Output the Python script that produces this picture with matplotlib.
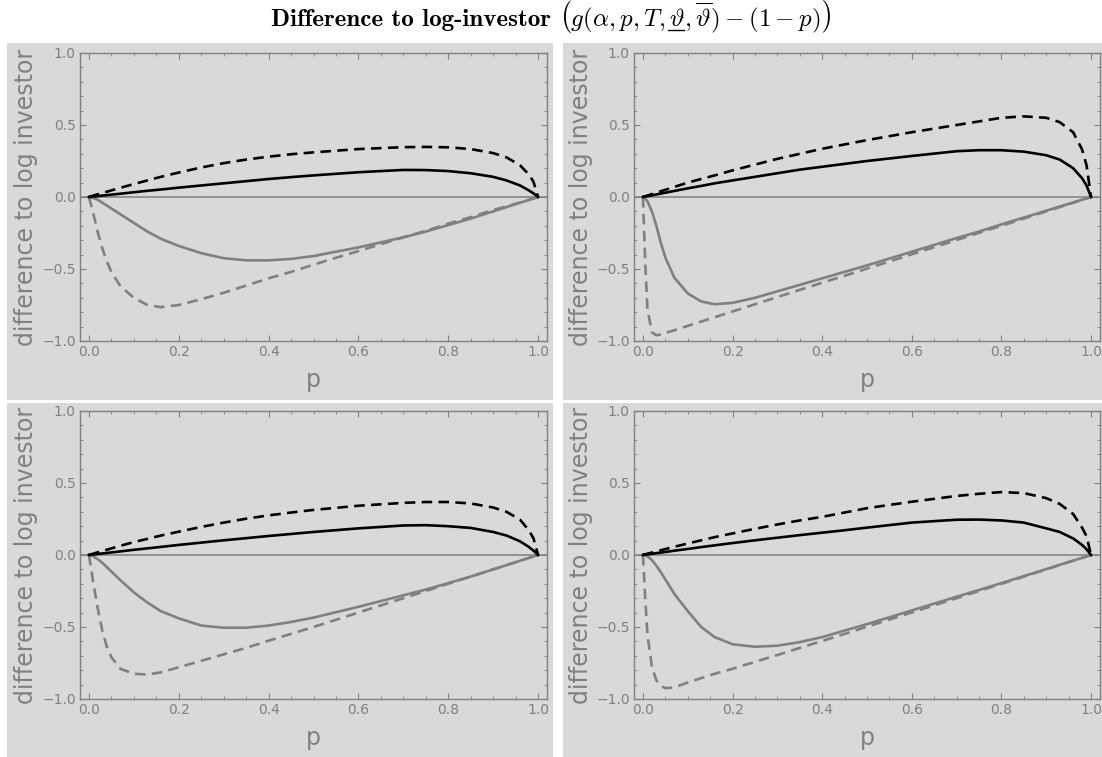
import numpy as np
import matplotlib
matplotlib.use('Agg')
import matplotlib.pyplot as plt
from matplotlib.patches import Rectangle
from matplotlib.lines import Line2D
from matplotlib.ticker import MultipleLocator

# common p grid the values were read at
p = [0, 0.005, 0.01, 0.02, 0.03, 0.04, 0.05, 0.07, 0.1, 0.13, 0.16, 0.2, 0.25, 0.3, 0.35,
     0.4, 0.45, 0.5, 0.6, 0.7, 0.75, 0.8, 0.85, 0.9, 0.93, 0.96, 0.98, 0.99, 1.0]

# top left
tl_black = [0, .002, .003, .007, .01, .013, .016, .023, .033, .043, .052, .065, .08, .095, .11,
            .125, .138, .15, .172, .188, .187, .18, .165, .14, .115, .08, .045, .025, 0]
tl_black_dash = [0, .005, .01, .019, .028, .037, .046, .064, .09, .115, .14, .17, .205, .235, .26,
                 .28, .297, .31, .333, .346, .348, .345, .333, .305, .275, .22, .155, .105, 0]
tl_gray = [0, -.003, -.008, -.02, -.04, -.06, -.08, -.12, -.18, -.24, -.29, -.34, -.39, -.425, -.44,
           -.44, -.43, -.41, -.35, -.28, -.24, -.195, -.15, -.1, -.07, -.04, -.02, -.01, 0]
tl_gray_dash = [0, -.06, -.12, -.25, -.36, -.45, -.52, -.62, -.70, -.75, -.765, -.75, -.71, -.665, -.615,
                -.565, -.52, -.47, -.375, -.28, -.235, -.185, -.14, -.09, -.065, -.038, -.019, -.01, 0]

# top right
tr_black = [0, .003, .006, .012, .018, .024, .03, .042, .06, .077, .095, .115, .14, .165, .19,
            .21, .23, .25, .285, .318, .325, .325, .315, .29, .26, .2, .13, .08, 0]
tr_black_dash = [0, .005, .01, .02, .03, .04, .05, .07, .1, .125, .15, .185, .225, .265, .3,
                 .335, .365, .395, .45, .5, .525, .55, .56, .55, .52, .45, .33, .22, 0]
tr_gray = [0, -.01, -.03, -.1, -.2, -.32, -.42, -.56, -.67, -.725, -.745, -.735, -.7, -.655, -.61,
           -.565, -.52, -.475, -.38, -.285, -.24, -.19, -.143, -.095, -.067, -.038, -.019, -.01, 0]
tr_gray_dash = [0, -.45, -.78, -.94, -.96, -.955, -.945, -.925, -.895, -.865, -.835, -.795, -.745, -.695, -.645,
                -.595, -.547, -.497, -.398, -.299, -.249, -.2, -.15, -.1, -.07, -.04, -.02, -.01, 0]

# bottom left
bl_black = [0, .002, .004, .007, .011, .014, .018, .025, .036, .046, .056, .07, .086, .102, .117,
            .132, .146, .16, .185, .205, .207, .2, .188, .16, .135, .095, .055, .03, 0]
bl_black_dash = [0, .005, .01, .019, .028, .037, .046, .064, .09, .112, .135, .162, .195, .225, .252,
                 .275, .295, .313, .342, .362, .368, .368, .358, .33, .3, .245, .17, .115, 0]
bl_gray = [0, -.003, -.01, -.03, -.055, -.085, -.115, -.175, -.26, -.33, -.39, -.44, -.49, -.505, -.505,
           -.49, -.465, -.435, -.36, -.28, -.24, -.195, -.15, -.1, -.07, -.04, -.02, -.01, 0]
bl_gray_dash = [0, -.1, -.2, -.38, -.53, -.64, -.71, -.79, -.825, -.83, -.815, -.78, -.735, -.69, -.645,
                -.595, -.548, -.5, -.4, -.3, -.25, -.2, -.15, -.1, -.07, -.04, -.02, -.01, 0]

# bottom right
br_black = [0, .002, .004, .008, .013, .017, .021, .03, .042, .055, .067, .083, .102, .12, .138,
            .155, .172, .19, .225, .245, .246, .24, .225, .185, .16, .115, .07, .04, 0]
br_black_dash = [0, .005, .009, .017, .025, .033, .041, .057, .08, .102, .124, .15, .182, .212, .24,
                 .265, .295, .325, .37, .41, .425, .437, .43, .395, .355, .285, .19, .13, 0]
br_gray = [0, -.003, -.01, -.035, -.075, -.12, -.17, -.27, -.39, -.5, -.57, -.62, -.637, -.63, -.605,
           -.57, -.525, -.48, -.385, -.29, -.243, -.195, -.147, -.098, -.068, -.039, -.02, -.01, 0]
br_gray_dash = [0, -.3, -.55, -.78, -.87, -.91, -.925, -.92, -.885, -.855, -.825, -.79, -.742, -.695, -.645,
                -.597, -.548, -.498, -.399, -.3, -.25, -.2, -.15, -.1, -.07, -.04, -.02, -.01, 0]

panels = [
    (tl_black, tl_black_dash, tl_gray, tl_gray_dash),
    (tr_black, tr_black_dash, tr_gray, tr_gray_dash),
    (bl_black, bl_black_dash, bl_gray, bl_gray_dash),
    (br_black, br_black_dash, br_gray, br_gray_dash),
]

W, H = 1102, 757
bg = '#d9d9d9'
fg = '#808080'
plt.rcParams['mathtext.fontset'] = 'cm'

fig = plt.figure(figsize=(W / 100, H / 100), dpi=100)

# panel backgrounds (pixels: x0, y0, x1, y1) and axes frames
bgs = [(7, 43, 553, 400), (563, 43, 1102, 400), (7, 403, 553, 757), (563, 403, 1102, 757)]
frames = [(80, 53, 547, 341), (634, 53, 1100, 341), (80, 411, 547, 699), (634, 411, 1100, 699)]

for (x0, y0, x1, y1) in bgs:
    fig.add_artist(Rectangle((x0 / W, 1 - y1 / H), (x1 - x0) / W, (y1 - y0) / H,
                             transform=fig.transFigure, facecolor=bg, edgecolor='none', zorder=0))

dash = (0, (4, 2.4))
for (x0, y0, x1, y1), (bk, bkd, gr, grd) in zip(frames, panels):
    ax = fig.add_axes([x0 / W, 1 - y1 / H, (x1 - x0) / W, (y1 - y0) / H])
    ax.set_facecolor(bg)
    ax.axhline(0, color=fg, lw=1.1, zorder=1)
    ax.plot(p, grd, color=fg, lw=1.9, linestyle=dash)
    ax.plot(p, gr, color=fg, lw=1.9)
    ax.plot(p, bkd, color='black', lw=1.9, linestyle=dash)
    ax.plot(p, bk, color='black', lw=1.9)
    ax.set_xlim(-0.02, 1.02)
    ax.set_ylim(-1, 1)
    ax.xaxis.set_major_locator(MultipleLocator(0.2))
    ax.xaxis.set_minor_locator(MultipleLocator(0.05))
    ax.yaxis.set_major_locator(MultipleLocator(0.5))
    ax.yaxis.set_minor_locator(MultipleLocator(0.1))
    ax.tick_params(which='both', direction='in', top=True, right=True, color=fg,
                   labelcolor=fg, labelsize=10)
    ax.tick_params(which='major', length=4, width=0.8, pad=3)
    ax.tick_params(which='minor', length=2, width=0.6)
    ax.set_xticklabels([f'{v:.1f}' for v in ax.get_xticks()])
    ax.set_yticklabels([f'{v:.1f}'.replace('-', '\u2212') for v in ax.get_yticks()])
    for s in ax.spines.values():
        s.set_color(fg)
        s.set_linewidth(1.0)
    ax.set_xlabel('p', fontsize=17, color=fg)
    ax.set_ylabel('difference to log investor', fontsize=17, color=fg)
    ax.xaxis.set_label_coords(0.5, -0.095)
    ax.yaxis.set_label_coords(-0.089, 0.5)

ty = 1 - 26 / H
fsz = 18
title = fig.text(0.5, ty, 'Difference to log-investor ',
                 fontsize=fsz, fontfamily='cmb10', ha='right', va='baseline')
eq = fig.text(0.5, ty, r'$\left(g(\alpha, p, T, \vartheta, \overline{\vartheta}) - (1-p)\right)$',
              fontsize=fsz, ha='left', va='baseline')
# helpers to measure where the underlined theta sits
pre = fig.text(0, 0, r'$\left(g(\alpha, p, T,\right.$', fontsize=fsz, alpha=0)
th = fig.text(0, 0, r'$\vartheta$', fontsize=fsz, alpha=0)
fig.canvas.draw()
r = fig.canvas.get_renderer()
w1 = title.get_window_extent(r).width
w2 = eq.get_window_extent(r).width
xs = (W - (w1 + w2)) / 2
title.set_x((xs + w1) / W)
eq.set_x((xs + w1) / W)
wp = pre.get_window_extent(r).width
wt = th.get_window_extent(r).width
gap = fsz * 100 / 72 * 0.17
ux0 = xs + w1 + wp + gap
base_px = ty * H - 4
fig.add_artist(Line2D([ux0 / W, (ux0 + wt) / W], [base_px / H, base_px / H],
                      transform=fig.transFigure, color='black', lw=1.0))

fig.savefig('out.png', dpi=100)
